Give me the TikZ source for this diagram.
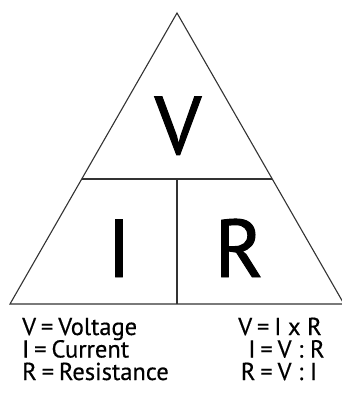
\documentclass[tikz,border=0pt]{standalone}
\usepackage{fontspec}
\setmainfont{PT Sans}
\newfontfamily\bigfont[FakeBold=1.2]{PT Sans}
\newfontfamily\smallfont[FakeBold=0.4]{PT Sans}
\usetikzlibrary{calc}
\newcommand{\eqs}{\hspace{0.2em}=\hspace{0.2em}}
\begin{document}
\begin{tikzpicture}[x=1pt,y=-1pt,
  edge/.style={draw=black!80,line width=1.1pt},
  big/.style={inner sep=0pt,anchor=base,font=\bigfont\fontsize{82}{82}\selectfont},
  small/.style={inner sep=0pt,text height=17pt,text depth=3pt,font=\smallfont\fontsize{24.5}{25}\selectfont}]
\useasboundingbox[fill=white] (0,0) rectangle (342,396);
\coordinate (top) at (177,13);
\coordinate (bl) at (10,304);
\coordinate (br) at (344,304);
\coordinate (ml) at ($(top)!0.5705!(bl)$);
\coordinate (mr) at ($(top)!0.5705!(br)$);
\coordinate (mt) at (177,179);
\coordinate (mb) at (177,304);
\draw[edge,line join=miter] (top) -- (bl) -- (br) -- cycle;
\draw[edge] (ml) -- (mr);
\draw[edge] (mt) -- (mb);
\node[big] (V) at (178,154) {V};
\node[big] (I) at (119,277) {I};
\node[big] (R) at (239,277) {R};
\node[small,anchor=base west] (l1) at (22,335) {V\eqs Voltage};
\node[small,anchor=base west] (l2) at (22,357.5) {I\eqs Current};
\node[small,anchor=base west] (l3) at (22,380) {R\eqs Resistance};
\node[small,anchor=base] (r1) at (280,335) {V\eqs I x R};
\node[small,anchor=base] (r2) at (286.5,357.5) {I\eqs V : R};
\node[small,anchor=base] (r3) at (279,380) {R\eqs V : I};
\end{tikzpicture}
\end{document}
